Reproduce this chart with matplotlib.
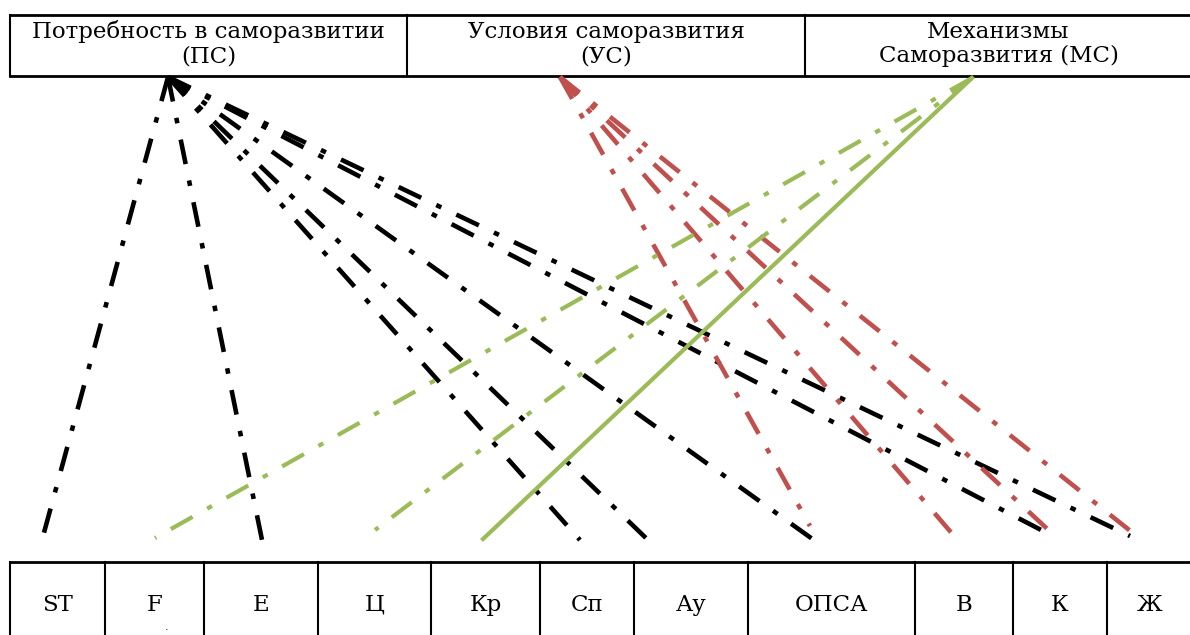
import matplotlib.pyplot as plt

plt.rcParams['lines.scale_dashes'] = False

# top boxes
top_labels = ["Потребность в саморазвитии\n(ПС)",
              "Условия саморазвития\n(УС)",
              "Механизмы\nСаморазвития (МС)"]
top_edges = [10, 407, 805, 1192]

# bottom boxes
bottom_labels = ["ST", "F", "E", "Ц", "Кр", "Сп", "Ау", "ОПСА", "В", "К", "Ж"]
bottom_edges = [10, 105, 204, 318, 431, 540, 634, 748, 915, 1013, 1107, 1192]

# connections: source point -> end points
ps_origin = (168, 77)
ps_ends_x = [42, 262, 580, 648, 818, 1045, 1130]
ps_ends_y = [540, 540, 540, 540, 543, 532, 536]

us_origin = (560, 77)
us_ends_x = [810, 955, 1056, 1138]
us_ends_y = [526, 537, 537, 537]

ms_origin = (972, 78)
ms_ends_x = [155, 375, 483]
ms_ends_y = [538, 530, 539]
ms_styles = ["dashdot", "dashdot", "solid"]

dashdot = (0, (18, 12, 4, 12))

fig = plt.figure(figsize=(11.9, 6.35), dpi=100)
ax = fig.add_axes([0, 0, 1, 1])
ax.set_xlim(0, 1190)
ax.set_ylim(635, 0)
ax.axis('off')

font = dict(family="DejaVu Serif", fontsize=16.5, color="black")

# top row of boxes
ax.plot([top_edges[0], top_edges[-1]], [15, 15], color="black", lw=2)
ax.plot([top_edges[0], top_edges[-1]], [76, 76], color="black", lw=2)
for x in top_edges[:-1]:
    ax.plot([x, x], [15, 76], color="black", lw=1.5)
for i, lab in enumerate(top_labels):
    cx = (top_edges[i] + top_edges[i + 1]) / 2
    ax.text(cx, 44, lab, ha="center", va="center", linespacing=1.15, **font)

# bottom row of boxes
ax.plot([bottom_edges[0], bottom_edges[-1]], [562, 562], color="black", lw=2)
for x in bottom_edges[:-1]:
    ax.plot([x, x], [562, 640], color="black", lw=1.5)
for i, lab in enumerate(bottom_labels):
    cx = (bottom_edges[i] + bottom_edges[i + 1]) / 2
    ax.text(cx, 605, lab, ha="center", va="center", **font)
ax.text(167, 627, ".", ha="center", va="center", fontsize=8)

# connecting lines
for x, y in zip(ps_ends_x, ps_ends_y):
    ax.plot([ps_origin[0], x], [ps_origin[1], y], color="black", lw=3.3,
            linestyle=dashdot, dash_capstyle="butt")
for x, y in zip(us_ends_x, us_ends_y):
    ax.plot([us_origin[0], x], [us_origin[1], y], color="#C0504D", lw=3.3,
            linestyle=dashdot, dash_capstyle="butt")
for x, y, s in zip(ms_ends_x, ms_ends_y, ms_styles):
    ls = dashdot if s == "dashdot" else "-"
    ax.plot([ms_origin[0], x], [ms_origin[1], y], color="#9BBB59", lw=3,
            linestyle=ls, dash_capstyle="butt")

fig.savefig("out.png", dpi=100)
